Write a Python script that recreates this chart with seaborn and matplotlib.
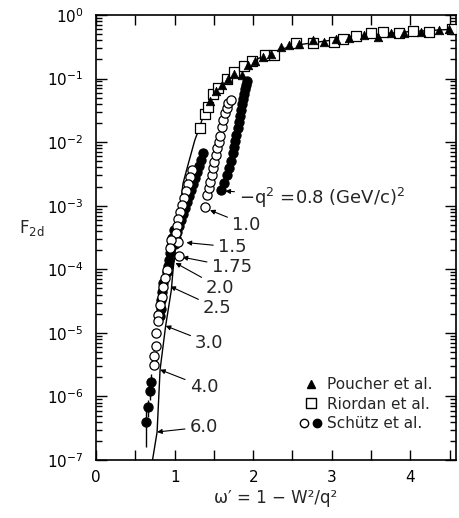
import numpy as np
import pandas as pd
import matplotlib
matplotlib.use("Agg")
import matplotlib.pyplot as plt
import seaborn as sns
from matplotlib.lines import Line2D
from matplotlib.legend_handler import HandlerTuple
from matplotlib.ticker import LogLocator, MultipleLocator, NullFormatter, FixedLocator

# scaling curve, log10(F2d) vs omega'
curve_x = [0.718, 0.776, 0.814, 0.885, 0.957, 0.98, 1.04, 1.106, 1.16, 1.256, 1.32,
           1.385, 1.49, 1.66, 1.79, 1.92, 2.09, 2.26, 2.51, 3.03, 3.5, 4.0, 4.6]
curve_logF = [-7.0, -6.56, -5.58, -4.89, -4.33, -4.0, -3.35, -2.65, -2.40, -1.97, -1.76,
              -1.50, -1.22, -1.01, -0.87, -0.77, -0.67, -0.58, -0.48, -0.39, -0.31, -0.26, -0.22]

# Poucher et al. (filled triangles)
poucher_x = [1.45, 1.53, 1.60, 1.68, 1.76, 1.855, 1.93, 2.02, 2.12, 2.22, 2.35, 2.45,
             2.58, 2.76, 2.90, 3.05, 3.22, 3.41, 3.59, 3.75, 3.92, 4.14, 4.37, 4.49]
poucher_logF = [-1.35, -1.20, -1.10, -1.00, -0.92, -0.94, -0.78, -0.72, -0.66, -0.61, -0.50, -0.47,
                -0.46, -0.39, -0.42, -0.38, -0.36, -0.31, -0.34, -0.29, -0.28, -0.26, -0.24, -0.22]

# Riordan et al. (open squares)
riordan_x = [1.32, 1.38, 1.42, 1.49, 1.55, 1.66, 1.75, 1.88, 1.98, 2.15, 2.26, 2.54,
             2.76, 3.03, 3.14, 3.31, 3.50, 3.65, 3.85, 4.04, 4.24, 4.53]
riordan_logF = [-1.78, -1.55, -1.45, -1.25, -1.15, -1.00, -0.90, -0.80, -0.72, -0.63, -0.63, -0.44,
                -0.44, -0.42, -0.38, -0.33, -0.29, -0.26, -0.29, -0.25, -0.26, -0.22]

# Schuetz et al. open circles
schutz_open_x = [1.385, 1.406, 1.440, 1.449, 1.470, 1.483, 1.500, 1.526, 1.542, 1.560, 1.577,
                 1.599, 1.619, 1.641, 1.662, 1.683, 1.718,
                 1.218, 1.192, 1.167, 1.141, 1.115, 1.090, 1.064, 1.038, 1.026, 1.013, 1.038, 1.051,
                 0.957, 0.936,
                 0.897, 0.872, 0.846, 0.833, 0.808, 0.782, 0.786,
                 0.765, 0.756, 0.735, 0.735]
schutz_open_logF = [-3.02, -2.83, -2.72, -2.63, -2.52, -2.41, -2.31, -2.20, -2.09, -2.00, -1.90,
                    -1.76, -1.65, -1.54, -1.46, -1.38, -1.34,
                    -2.44, -2.55, -2.66, -2.77, -2.88, -2.99, -3.10, -3.21, -3.32, -3.43, -3.57, -3.79,
                    -3.54, -3.67,
                    -4.01, -4.14, -4.28, -4.43, -4.56, -4.72, -4.82,
                    -5.00, -5.20, -5.36, -5.51]

# Schuetz et al. filled circles
schutz_fill_x = [1.590, 1.628, 1.667, 1.692, 1.718, 1.744, 1.756, 1.769, 1.782, 1.808, 1.821,
                 1.833, 1.846, 1.859, 1.872, 1.885, 1.897, 1.910, 1.923,
                 1.359, 1.333, 1.308, 1.282, 1.256, 1.231, 1.205, 1.179, 1.154, 1.128, 1.103,
                 1.077, 1.051, 1.026, 1.013, 1.000,
                 0.987, 0.962, 0.949, 0.936, 0.923, 0.910, 0.897,
                 0.850, 0.840, 0.826, 0.820, 0.810]
schutz_fill_logF = [-2.75, -2.64, -2.52, -2.41, -2.30, -2.17, -2.08, -1.98, -1.89, -1.78, -1.68,
                    -1.59, -1.49, -1.40, -1.32, -1.24, -1.16, -1.10, -1.04,
                    -2.17, -2.28, -2.37, -2.47, -2.56, -2.66, -2.75, -2.85, -2.94, -3.03, -3.13,
                    -3.22, -3.32, -3.41, -3.51, -3.60,
                    -3.38, -3.51, -3.63, -3.74, -3.85, -3.95, -4.04,
                    -4.22, -4.35, -4.48, -4.62, -4.74]

# Schuetz et al. lowest points with error bars
schutz_err_x = [0.701, 0.688, 0.658, 0.637]
schutz_err_logF = [-5.77, -5.91, -6.17, -6.41]
schutz_err_lo = [-5.92, -6.06, -6.32, -6.79]
schutz_err_hi = [-5.65, -5.79, -6.05, -6.21]

q2_labels = ["1.0", "1.5", "1.75", "2.0", "2.5", "3.0", "4.0", "6.0"]
y_decades = [-7, -6, -5, -4, -3, -2, -1, 0]

sns.set_theme(style="ticks")
plt.rcParams["font.family"] = ["DejaVu Sans"]
plt.rcParams["mathtext.fontset"] = "dejavusans"

fig = plt.figure(figsize=(4.6, 5.18), dpi=100)
ax = fig.add_axes([0.209, 0.112, 0.782, 0.859])
ax.set_yscale("log")

curve = pd.DataFrame({"x": curve_x, "F": 10 ** np.array(curve_logF)})
sns.lineplot(data=curve, x="x", y="F", color="black", lw=1.0, sort=False, ax=ax, zorder=2)

ax.vlines(schutz_err_x, 10 ** np.array(schutz_err_lo), 10 ** np.array(schutz_err_hi),
          color="black", lw=1.0, zorder=2)

sns.scatterplot(x=schutz_fill_x, y=10 ** np.array(schutz_fill_logF), marker="o", s=44,
                color="black", edgecolor="black", linewidth=0.8, ax=ax, zorder=3)
sns.scatterplot(x=schutz_err_x, y=10 ** np.array(schutz_err_logF), marker="o", s=44,
                color="black", edgecolor="black", linewidth=0.8, ax=ax, zorder=3)
sns.scatterplot(x=schutz_open_x, y=10 ** np.array(schutz_open_logF), marker="o", s=44,
                color="white", edgecolor="black", linewidth=0.9, ax=ax, zorder=4)
sns.scatterplot(x=riordan_x, y=10 ** np.array(riordan_logF), marker="s", s=52,
                color="white", edgecolor="black", linewidth=0.9, ax=ax, zorder=4)
sns.scatterplot(x=poucher_x, y=10 ** np.array(poucher_logF), marker="^", s=38,
                color="black", edgecolor="black", linewidth=0.5, ax=ax, zorder=5)

ax.set_xlim(0, 4.58)
ax.set_ylim(1e-7, 1)
ax.xaxis.set_major_locator(MultipleLocator(1))
ax.xaxis.set_minor_locator(MultipleLocator(0.5))
ax.yaxis.set_major_locator(FixedLocator(10.0 ** np.array(y_decades)))
ax.yaxis.set_minor_locator(LogLocator(base=10, subs=np.arange(2, 10), numticks=12))
ax.yaxis.set_minor_formatter(NullFormatter())
ax.tick_params(which="both", direction="in", top=True, right=True, width=1.0, colors="black",
               labelsize=11)
ax.tick_params(which="minor", labelleft=False, labelbottom=False)
ax.tick_params(axis="x", which="both", length=7, pad=7)
ax.tick_params(axis="y", which="major", length=8, pad=9)
ax.tick_params(axis="y", which="minor", length=4)
for sp in ax.spines.values():
    sp.set_linewidth(1.2)
    sp.set_color("black")

ax.set_xlabel("ω′ = 1 − W²/q²", fontsize=12, labelpad=3)
ax.set_ylabel(r"$\mathregular{F_{2d}}$", fontsize=12, rotation=0)
ax.yaxis.set_label_coords(-0.18, 0.5)

arrow = dict(arrowstyle="-|>", color="black", lw=0.8, mutation_scale=7, shrinkA=1, shrinkB=0)
ax.annotate(r"$\mathregular{-q^2}$ =0.8 (GeV/c)$\mathregular{^2}$", xy=(1.645, 10 ** -2.77),
            xytext=(1.82, 10 ** -2.87), ha="left", va="center", fontsize=13, arrowprops=arrow)
label_pos = [(1.73, -3.30), (1.55, -3.65), (1.47, -3.96), (1.40, -4.29),
             (1.36, -4.61), (1.26, -5.16), (1.19, -5.85), (1.19, -6.48)]
tip_pos = [(1.45, -3.07), (1.15, -3.58), (1.10, -3.81), (1.01, -3.90),
           (0.945, -4.27), (0.885, -4.89), (0.814, -5.58), (0.776, -6.56)]
for lab, (tx, ty), (px, py) in zip(q2_labels, label_pos, tip_pos):
    ax.annotate(lab, xy=(px, 10 ** py), xytext=(tx, 10 ** ty), ha="left", va="center",
                fontsize=13, arrowprops=arrow)

h_tri = Line2D([], [], marker="^", ls="none", color="black", markersize=6)
h_sq = Line2D([], [], marker="s", ls="none", mfc="white", mec="black", markersize=7)
h_oc = Line2D([], [], marker="o", ls="none", mfc="white", mec="black", markersize=6)
h_fc = Line2D([], [], marker="o", ls="none", mfc="black", mec="black", markersize=6)
ax.legend([h_tri, h_sq, (h_oc, h_fc)], ["Poucher et al.", "Riordan et al.", "Schütz et al."],
          handler_map={tuple: HandlerTuple(ndivide=None, pad=0.0)},
          loc="upper left", bbox_to_anchor=(0.545, 0.20), frameon=False, fontsize=11,
          handlelength=1.6, handletextpad=0.3, labelspacing=0.3, borderaxespad=0)

fig.savefig("out.png", dpi=100)
